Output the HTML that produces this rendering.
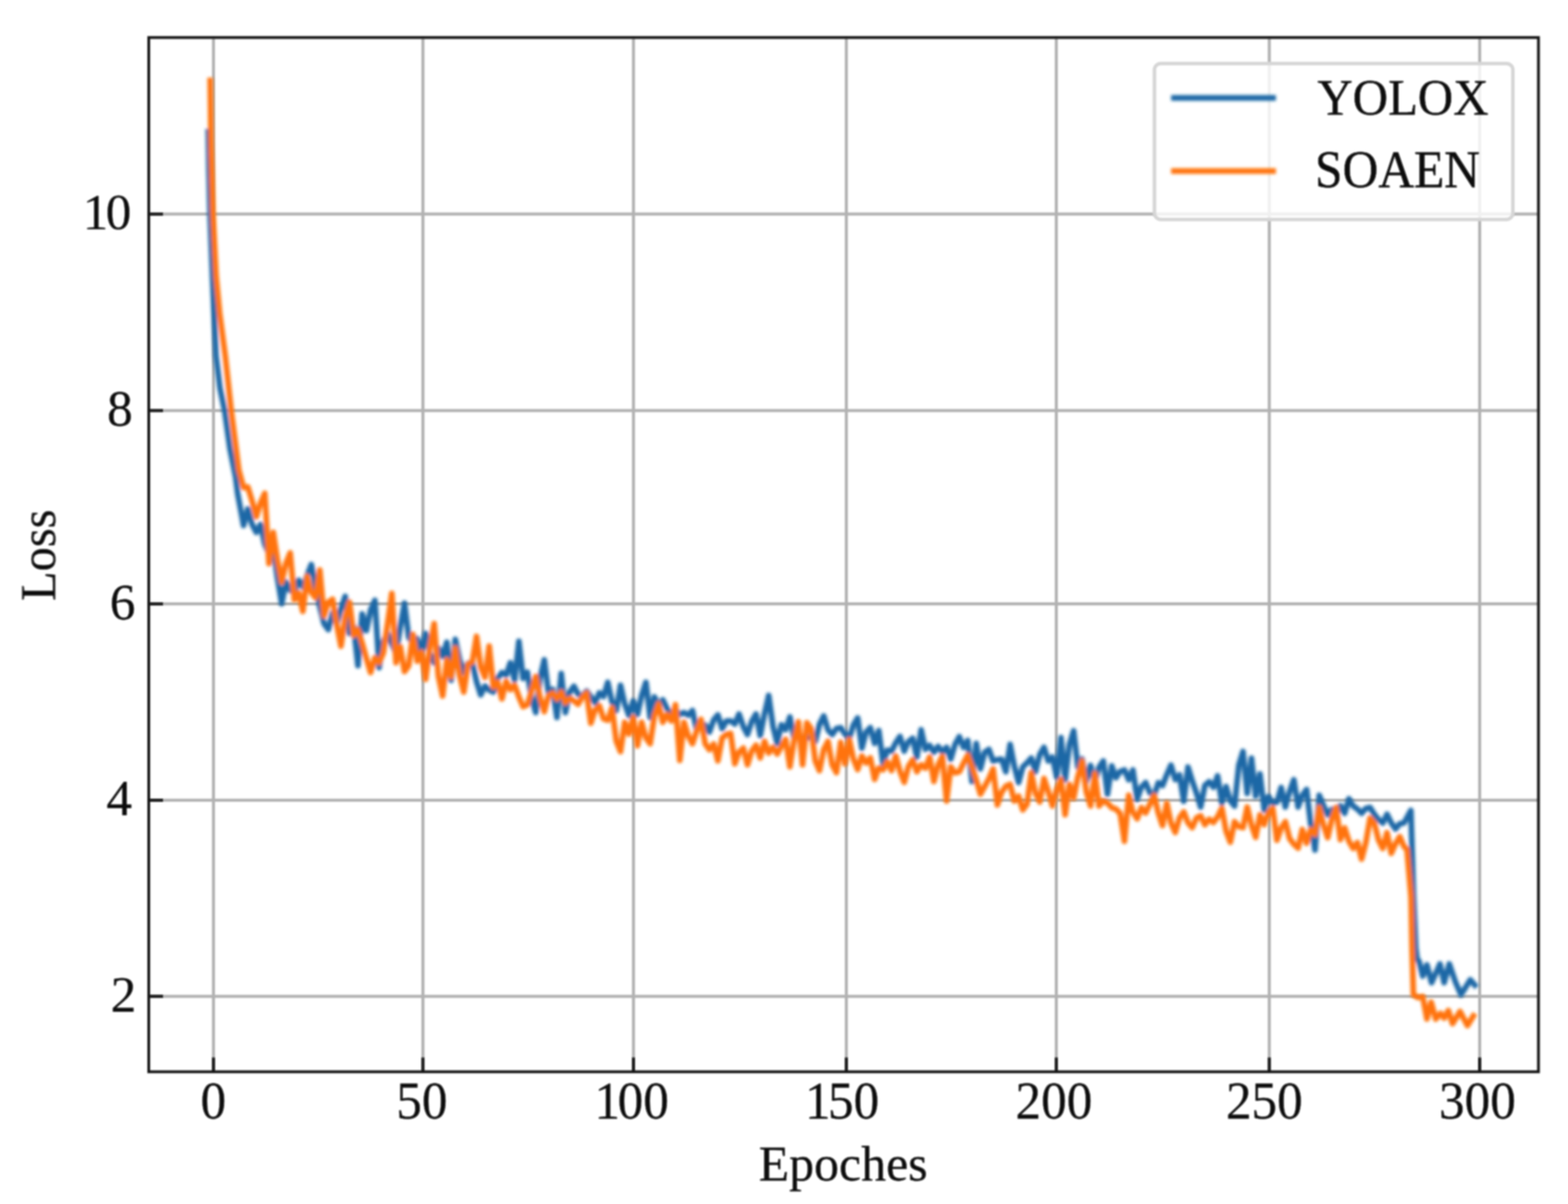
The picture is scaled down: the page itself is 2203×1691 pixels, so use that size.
<!DOCTYPE html>
<html lang="en"><head><meta charset="utf-8"><title>Loss curves: YOLOX vs SOAEN</title>
<style>html,body{margin:0;padding:0;background:#fff;}body{width:2203px;height:1691px;overflow:hidden;}svg{display:block;}text{font-family:"Liberation Serif","DejaVu Serif",serif;fill:#0a0a0a;}</style>
</head><body>
<svg width="2203" height="1691" viewBox="0 0 2203 1691">
<defs><filter id="soft" filterUnits="userSpaceOnUse" x="0" y="0" width="2203" height="1691"><feGaussianBlur stdDeviation="1.25"/></filter>
<filter id="csoft" filterUnits="userSpaceOnUse" x="0" y="0" width="2203" height="1691"><feGaussianBlur stdDeviation="2.0"/></filter>
<clipPath id="ax"><rect x="209.0" y="52.7" width="1952.5" height="1452.6"/></clipPath></defs>
<rect width="2203" height="1691" fill="#fff"/>
<g filter="url(#soft)">
<g stroke="#b2b2b2" stroke-width="4.3" fill="none">
<line x1="299.9" y1="52.7" x2="299.9" y2="1505.3"/>
<line x1="594.2" y1="52.7" x2="594.2" y2="1505.3"/>
<line x1="890.0" y1="52.7" x2="890.0" y2="1505.3"/>
<line x1="1189.1" y1="52.7" x2="1189.1" y2="1505.3"/>
<line x1="1484.1" y1="52.7" x2="1484.1" y2="1505.3"/>
<line x1="1783.3" y1="52.7" x2="1783.3" y2="1505.3"/>
<line x1="2078.9" y1="52.7" x2="2078.9" y2="1505.3"/>
<line x1="209.0" y1="300.7" x2="2161.5" y2="300.7"/>
<line x1="209.0" y1="576.6" x2="2161.5" y2="576.6"/>
<line x1="209.0" y1="848.2" x2="2161.5" y2="848.2"/>
<line x1="209.0" y1="1123.9" x2="2161.5" y2="1123.9"/>
<line x1="209.0" y1="1399.3" x2="2161.5" y2="1399.3"/>
</g>
</g>
<g filter="url(#csoft)"><g clip-path="url(#ax)" fill="none" stroke-width="7.9" stroke-linejoin="round" stroke-linecap="butt">
<path stroke="#1a68a6" d="M292.6,181.0 L293.6,240.0 L295.0,300.0 L298.6,390.0 L303.5,500.0 L309.0,545.0 L315.6,577.0 L323.0,630.0 L331.0,670.0 L334.0,694.0 L342.2,738.1 L348.2,714.8 L354.1,736.4 L360.1,747.7 L366.0,736.7 L372.0,764.3 L377.9,777.7 L383.9,769.6 L389.8,811.7 L395.8,847.8 L401.7,817.6 L407.7,829.2 L413.6,831.3 L419.6,814.9 L425.5,824.5 L431.5,808.2 L437.4,792.9 L443.4,824.5 L449.3,852.4 L455.2,875.9 L461.2,884.2 L467.2,861.1 L473.1,875.9 L479.1,854.7 L485.0,837.6 L491.0,889.6 L496.9,880.0 L502.9,934.9 L508.8,862.2 L514.8,885.6 L520.7,856.7 L526.7,843.0 L532.6,937.6 L538.6,900.8 L544.5,889.6 L550.5,904.4 L556.4,917.0 L562.4,880.3 L568.3,847.2 L574.2,894.9 L580.2,903.3 L586.2,897.0 L592.1,917.0 L598.0,889.6 L604.0,918.5 L610.0,930.8 L615.9,910.3 L621.9,921.8 L627.8,902.0 L633.8,955.4 L639.7,897.9 L645.7,926.1 L651.6,944.5 L657.5,931.7 L663.5,930.8 L669.5,957.2 L675.4,976.0 L681.4,963.6 L687.3,969.2 L693.2,971.9 L699.2,952.8 L705.2,944.5 L711.1,948.2 L717.0,930.8 L723.0,955.4 L729.0,900.7 L734.9,952.8 L740.9,944.1 L746.8,980.9 L752.8,1000.8 L758.7,952.6 L764.7,926.7 L770.6,973.3 L776.5,968.1 L782.5,1007.6 L788.5,945.9 L794.4,1000.8 L800.4,971.9 L806.3,963.8 L812.2,975.1 L818.2,977.5 L824.2,970.6 L830.1,978.5 L836.1,987.0 L842.0,973.1 L848.0,978.2 L853.9,958.3 L859.9,986.1 L865.8,998.0 L871.8,962.4 L877.7,988.7 L883.7,1004.9 L889.6,984.6 L895.6,1003.5 L901.5,976.8 L907.5,958.3 L913.4,1007.6 L919.4,978.8 L925.3,990.4 L931.2,982.9 L937.2,995.4 L943.2,1004.9 L949.1,997.4 L955.1,1003.3 L961.0,1000.8 L967.0,1004.5 L972.9,998.0 L978.9,1025.4 L984.8,1016.6 L990.8,1018.3 L996.7,1028.2 L1002.7,1011.0 L1008.6,1004.2 L1014.6,1023.3 L1020.5,1012.6 L1026.5,1012.4 L1032.4,1016.8 L1038.3,1002.8 L1044.3,1020.3 L1050.2,1031.6 L1056.2,1013.1 L1062.2,1002.8 L1068.1,1032.9 L1074.1,1002.6 L1080.0,976.7 L1086.0,1020.1 L1091.9,1043.9 L1097.8,1017.9 L1103.8,1024.8 L1109.8,1006.9 L1115.7,1037.0 L1121.7,1031.8 L1127.6,1037.0 L1133.6,1036.3 L1139.5,1034.9 L1145.5,1041.2 L1151.4,1017.1 L1157.3,1005.5 L1163.3,1025.2 L1169.2,1031.6 L1175.2,1023.2 L1181.2,1022.0 L1187.1,1030.7 L1193.1,1037.0 L1199.0,1018.3 L1205.0,1008.3 L1210.9,1050.8 L1216.8,1028.2 L1222.8,1022.0 L1228.8,1043.9 L1234.7,1026.1 L1240.7,1072.7 L1246.6,1053.5 L1252.6,1054.9 L1258.5,1043.2 L1264.5,1034.3 L1270.4,1054.9 L1276.3,1041.6 L1282.3,1037.0 L1288.2,1063.3 L1294.2,1025.0 L1300.2,1052.4 L1306.1,1046.9 L1312.1,1056.5 L1318.0,1048.3 L1324.0,1056.5 L1329.9,1049.6 L1335.8,1066.1 L1341.8,1045.5 L1347.8,1034.6 L1353.7,1049.6 L1359.7,1040.0 L1365.6,1097.6 L1371.6,1044.2 L1377.5,1079.8 L1383.5,1056.5 L1389.4,1052.4 L1395.3,1068.8 L1401.3,1067.0 L1407.2,1066.1 L1413.2,1083.9 L1419.2,1045.5 L1425.1,1075.9 L1431.1,1099.0 L1437.0,1077.0 L1443.0,1071.3 L1448.9,1064.7 L1454.8,1083.9 L1460.8,1059.8 L1466.8,1049.6 L1472.7,1068.8 L1478.7,1063.3 L1484.6,1090.8 L1490.6,1035.9 L1496.5,1094.9 L1502.5,1045.7 L1508.4,1026.3 L1514.3,1077.0 L1520.3,1065.9 L1526.2,1097.6 L1532.2,1075.1 L1538.2,1097.6 L1544.1,1077.6 L1550.1,1068.8 L1556.0,1115.4 L1562.0,1075.7 L1567.9,1092.4 L1573.8,1083.5 L1579.8,1081.4 L1585.8,1095.1 L1591.7,1081.4 L1597.7,1122.5 L1603.6,1105.5 L1609.6,1099.2 L1615.5,1113.3 L1621.5,1117.0 L1627.4,1099.2 L1633.3,1103.3 L1639.3,1088.0 L1645.2,1074.6 L1651.2,1095.0 L1657.2,1088.3 L1663.1,1125.3 L1669.1,1077.3 L1675.0,1096.5 L1681.0,1113.9 L1686.9,1133.5 L1692.8,1103.0 L1698.8,1097.9 L1704.8,1105.7 L1710.7,1089.6 L1716.7,1128.0 L1722.6,1104.7 L1728.6,1124.8 L1734.5,1132.1 L1740.5,1074.5 L1746.4,1055.4 L1752.3,1114.3 L1758.3,1065.0 L1764.2,1118.4 L1770.2,1086.9 L1776.2,1137.6 L1782.1,1118.7 L1788.1,1128.0 L1794.0,1126.6 L1800.0,1106.1 L1805.9,1133.5 L1811.8,1111.8 L1817.8,1095.1 L1823.8,1133.5 L1829.7,1117.0 L1835.7,1108.8 L1841.6,1158.2 L1847.6,1193.8 L1853.5,1117.0 L1859.5,1131.3 L1865.4,1144.4 L1871.3,1136.7 L1877.3,1143.2 L1883.2,1131.6 L1889.2,1142.2 L1895.2,1121.7 L1901.1,1132.0 L1907.1,1136.3 L1913.0,1142.2 L1919.0,1135.3 L1924.9,1134.0 L1930.8,1143.6 L1936.8,1151.0 L1942.8,1155.9 L1948.7,1143.6 L1954.7,1155.7 L1960.6,1164.2 L1966.6,1156.9 L1972.5,1155.9 L1982.3,1138.1 L1985.8,1253.1 L1989.1,1331.6 L1991.1,1347.3 L1993.7,1350.0 L1998.9,1370.9 L2004.8,1355.2 L2011.3,1380.1 L2023.1,1353.9 L2029.0,1380.1 L2036.2,1353.9 L2044.7,1378.8 L2052.6,1397.1 L2065.7,1376.1 L2074.8,1386.6"/>
<path stroke="#ff7307" d="M295.3,109.0 L296.5,200.0 L299.2,300.0 L303.6,388.0 L308.6,440.0 L316.5,500.0 L324.9,577.0 L335.5,660.0 L342.2,684.7 L348.2,684.0 L354.1,703.2 L360.1,725.8 L366.0,706.4 L372.0,692.9 L377.9,791.6 L383.9,747.7 L389.8,786.4 L395.8,817.6 L401.7,791.2 L407.7,776.5 L413.6,842.3 L419.6,832.7 L425.5,858.7 L431.5,809.4 L437.4,832.0 L443.4,839.5 L449.3,800.6 L455.2,865.0 L461.2,845.8 L467.2,841.7 L473.1,876.9 L479.1,907.5 L485.0,866.3 L491.0,845.8 L496.9,892.3 L502.9,884.2 L508.8,903.3 L514.8,924.8 L520.7,944.5 L526.7,923.9 L532.6,930.8 L538.6,917.0 L544.5,876.4 L550.5,833.4 L556.4,930.8 L562.4,908.4 L568.3,943.1 L574.2,934.9 L580.2,891.0 L586.2,928.6 L592.1,915.9 L598.0,954.1 L604.0,908.0 L610.0,875.9 L615.9,949.5 L621.9,977.4 L627.8,926.5 L633.8,950.6 L639.7,910.2 L645.7,948.8 L651.6,971.9 L657.5,932.9 L663.5,929.9 L669.5,893.8 L675.4,936.7 L681.4,951.3 L687.3,907.5 L693.2,965.0 L699.2,957.7 L705.2,981.5 L711.1,956.8 L717.0,968.6 L723.0,962.3 L729.0,978.7 L734.9,992.5 L740.9,989.8 L746.8,970.4 L752.8,950.0 L758.7,979.5 L764.7,999.4 L770.6,976.7 L776.5,973.3 L782.5,981.7 L788.5,972.0 L794.4,987.0 L800.4,980.7 L806.3,984.3 L812.2,989.1 L818.2,978.9 L824.2,973.3 L830.1,1015.8 L836.1,997.0 L842.0,991.2 L848.0,1009.6 L853.9,1011.5 L859.9,993.9 L865.8,1040.7 L871.8,1055.6 L877.7,1014.5 L883.7,1031.0 L889.6,1007.6 L895.6,1047.4 L901.5,1014.5 L907.5,1036.2 L913.4,1044.6 L919.4,1005.1 L925.3,988.4 L931.2,1014.5 L937.2,1003.3 L943.2,1012.7 L949.1,989.8 L955.1,1067.9 L961.0,1014.5 L967.0,1033.6 L972.9,1044.6 L978.9,1026.0 L984.8,1010.3 L990.8,1044.7 L996.7,1052.8 L1002.7,1044.9 L1008.6,1068.6 L1014.6,1036.4 L1020.5,1031.6 L1026.5,1030.2 L1032.4,1072.7 L1038.3,1056.4 L1044.3,1050.8 L1050.2,1074.1 L1056.2,1054.6 L1062.2,1046.6 L1068.1,1064.5 L1074.1,1041.2 L1080.0,1057.6 L1086.0,1049.5 L1091.9,1059.0 L1097.8,1048.3 L1103.8,1038.4 L1109.8,1076.8 L1115.7,1039.5 L1121.7,1013.8 L1127.6,1074.1 L1133.6,1015.1 L1139.5,1023.3 L1145.5,1068.9 L1151.4,1082.3 L1157.3,1052.8 L1163.3,1041.2 L1169.2,1074.1 L1175.2,1085.0 L1181.2,1042.5 L1187.1,1072.7 L1193.1,1038.4 L1199.0,1065.8 L1205.0,1080.9 L1210.9,1061.7 L1216.8,1071.5 L1222.8,1064.5 L1228.8,1094.6 L1234.7,1078.5 L1240.7,1081.2 L1246.6,1069.9 L1252.6,1082.3 L1258.5,1061.7 L1264.5,1083.4 L1270.4,1098.7 L1276.3,1076.5 L1282.3,1067.2 L1288.2,1083.9 L1294.2,1074.2 L1300.2,1078.8 L1306.1,1063.3 L1312.1,1097.6 L1318.0,1074.4 L1324.0,1062.0 L1329.9,1125.0 L1335.8,1077.0 L1341.8,1085.4 L1347.8,1083.9 L1353.7,1072.1 L1359.7,1060.6 L1365.6,1077.0 L1371.6,1095.4 L1377.5,1115.4 L1383.5,1104.5 L1389.4,1093.5 L1395.3,1079.8 L1401.3,1130.5 L1407.2,1112.7 L1413.2,1104.2 L1419.2,1101.7 L1425.1,1125.0 L1431.1,1118.2 L1437.0,1137.4 L1443.0,1129.1 L1448.9,1085.3 L1454.8,1113.7 L1460.8,1126.4 L1466.8,1093.5 L1472.7,1111.3 L1478.7,1131.9 L1484.6,1109.6 L1490.6,1094.9 L1496.5,1144.2 L1502.5,1101.7 L1508.4,1120.9 L1514.3,1091.2 L1520.3,1068.8 L1526.2,1112.0 L1532.2,1131.9 L1538.2,1086.6 L1544.1,1131.9 L1550.1,1124.7 L1556.0,1127.8 L1562.0,1134.4 L1567.9,1136.2 L1573.8,1142.5 L1579.8,1181.5 L1585.8,1117.0 L1591.7,1140.7 L1597.7,1149.9 L1603.6,1134.3 L1609.6,1141.7 L1615.5,1129.6 L1621.5,1117.0 L1627.4,1141.8 L1633.3,1159.5 L1639.3,1128.0 L1645.2,1155.9 L1651.2,1169.1 L1657.2,1148.6 L1663.1,1140.3 L1669.1,1155.5 L1675.0,1162.3 L1681.0,1148.8 L1686.9,1145.8 L1692.8,1158.2 L1698.8,1150.6 L1704.8,1155.2 L1710.7,1147.2 L1716.7,1134.9 L1722.6,1167.3 L1728.6,1182.8 L1734.5,1154.1 L1740.5,1161.0 L1746.4,1162.3 L1752.3,1133.5 L1758.3,1158.7 L1764.2,1176.0 L1770.2,1144.5 L1776.2,1158.2 L1782.1,1141.6 L1788.1,1134.9 L1794.0,1180.1 L1800.0,1162.9 L1805.9,1154.1 L1811.8,1177.6 L1817.8,1185.6 L1823.8,1191.1 L1829.7,1165.0 L1835.7,1184.2 L1841.6,1165.0 L1847.6,1171.9 L1853.5,1134.0 L1859.5,1158.7 L1865.4,1176.5 L1871.3,1150.0 L1877.3,1134.0 L1883.2,1179.2 L1889.2,1162.8 L1895.2,1181.6 L1901.1,1191.6 L1907.1,1183.3 L1913.0,1206.6 L1919.0,1183.3 L1924.9,1149.1 L1930.8,1155.9 L1936.8,1179.8 L1942.8,1191.6 L1948.7,1169.6 L1954.7,1198.4 L1960.6,1185.2 L1966.6,1175.1 L1972.5,1188.8 L1976.8,1192.9 L1982.5,1259.6 L1983.9,1331.6 L1985.8,1397.1 L1992.4,1401.0 L1998.9,1399.7 L2004.8,1431.1 L2010.7,1407.6 L2017.2,1431.1 L2023.8,1423.3 L2029.0,1429.8 L2034.9,1419.3 L2040.8,1437.7 L2051.3,1420.7 L2061.7,1440.3 L2072.2,1423.3"/>
</g></g>
<g filter="url(#soft)">
<g stroke="#141414" stroke-width="3.9" fill="none">
<line x1="299.9" y1="1505.3" x2="299.9" y2="1485.3"/>
<line x1="594.2" y1="1505.3" x2="594.2" y2="1485.3"/>
<line x1="890.0" y1="1505.3" x2="890.0" y2="1485.3"/>
<line x1="1189.1" y1="1505.3" x2="1189.1" y2="1485.3"/>
<line x1="1484.1" y1="1505.3" x2="1484.1" y2="1485.3"/>
<line x1="1783.3" y1="1505.3" x2="1783.3" y2="1485.3"/>
<line x1="2078.9" y1="1505.3" x2="2078.9" y2="1485.3"/>
<line x1="209.0" y1="300.7" x2="229.0" y2="300.7"/>
<line x1="209.0" y1="576.6" x2="229.0" y2="576.6"/>
<line x1="209.0" y1="848.2" x2="229.0" y2="848.2"/>
<line x1="209.0" y1="1123.9" x2="229.0" y2="1123.9"/>
<line x1="209.0" y1="1399.3" x2="229.0" y2="1399.3"/>
</g>
<rect x="209.0" y="52.7" width="1952.5" height="1452.6" fill="none" stroke="#141414" stroke-width="3.9"/>
<rect x="1622" y="89.2" width="503.5" height="219" rx="9" ry="9" fill="#fff" fill-opacity="0.8" stroke="#d6d6d6" stroke-width="5"/>
</g>
<g filter="url(#csoft)"><line x1="1645.4" y1="137.5" x2="1792.6" y2="137.5" stroke="#1a68a6" stroke-width="7.9"/>
<line x1="1645.4" y1="240.3" x2="1792.6" y2="240.3" stroke="#ff7307" stroke-width="7.9"/></g>
<g filter="url(#soft)">
<text transform="translate(1850.88,160.75) scale(0.9545,0.9979)" font-size="72" stroke="#0a0a0a" stroke-width="0.5">YOLOX</text>
<text transform="translate(1847.61,263.44) scale(0.9657,1.0253)" font-size="72" stroke="#0a0a0a" stroke-width="0.5">SOAEN</text>
<text transform="translate(281.68,1571.27) scale(1.0000,1.0159)" font-size="72" stroke="#0a0a0a" stroke-width="0.25">0</text>
<text transform="translate(556.67,1571.27) scale(1.0000,1.0159)" font-size="72" stroke="#0a0a0a" stroke-width="0.25">50</text>
<text transform="translate(831.77,1571.27) scale(1.0000,1.0159)" font-size="72" stroke="#0a0a0a" stroke-width="0.25"><tspan dx="3.60">1</tspan><tspan dx="-3.60">00</tspan></text>
<text transform="translate(1127.38,1571.27) scale(1.0000,1.0159)" font-size="72" stroke="#0a0a0a" stroke-width="0.25"><tspan dx="3.60">1</tspan><tspan dx="-3.60">50</tspan></text>
<text transform="translate(1426.78,1571.27) scale(1.0000,1.0159)" font-size="72" stroke="#0a0a0a" stroke-width="0.25">200</text>
<text transform="translate(1722.38,1571.27) scale(1.0000,1.0159)" font-size="72" stroke="#0a0a0a" stroke-width="0.25">250</text>
<text transform="translate(2021.78,1571.27) scale(1.0000,1.0159)" font-size="72" stroke="#0a0a0a" stroke-width="0.25">300</text>
<text transform="translate(112.57,321.98) scale(1.0000,0.9905)" font-size="72" stroke="#0a0a0a" stroke-width="0.25"><tspan dx="3.60">1</tspan><tspan dx="-3.60">0</tspan></text>
<text transform="translate(150.38,598.17) scale(1.0000,1.0032)" font-size="72" stroke="#0a0a0a" stroke-width="0.25">8</text>
<text transform="translate(154.18,870.17) scale(1.0000,1.0032)" font-size="72" stroke="#0a0a0a" stroke-width="0.25">6</text>
<text transform="translate(149.57,1145.48) scale(1.0000,0.9968)" font-size="72" stroke="#0a0a0a" stroke-width="0.25">4</text>
<text transform="translate(155.57,1420.78) scale(1.0000,0.9905)" font-size="72" stroke="#0a0a0a" stroke-width="0.25">2</text>
<text transform="translate(1066.10,1658.34) scale(0.9724,0.9678)" font-size="72" stroke="#0a0a0a" stroke-width="0.3">Epoches</text>
<text transform="translate(76.95,844.05) rotate(-90) scale(0.9444,0.9789)" font-size="72" stroke="#0a0a0a" stroke-width="0.3">Loss</text>
</g>
</svg></body></html>
